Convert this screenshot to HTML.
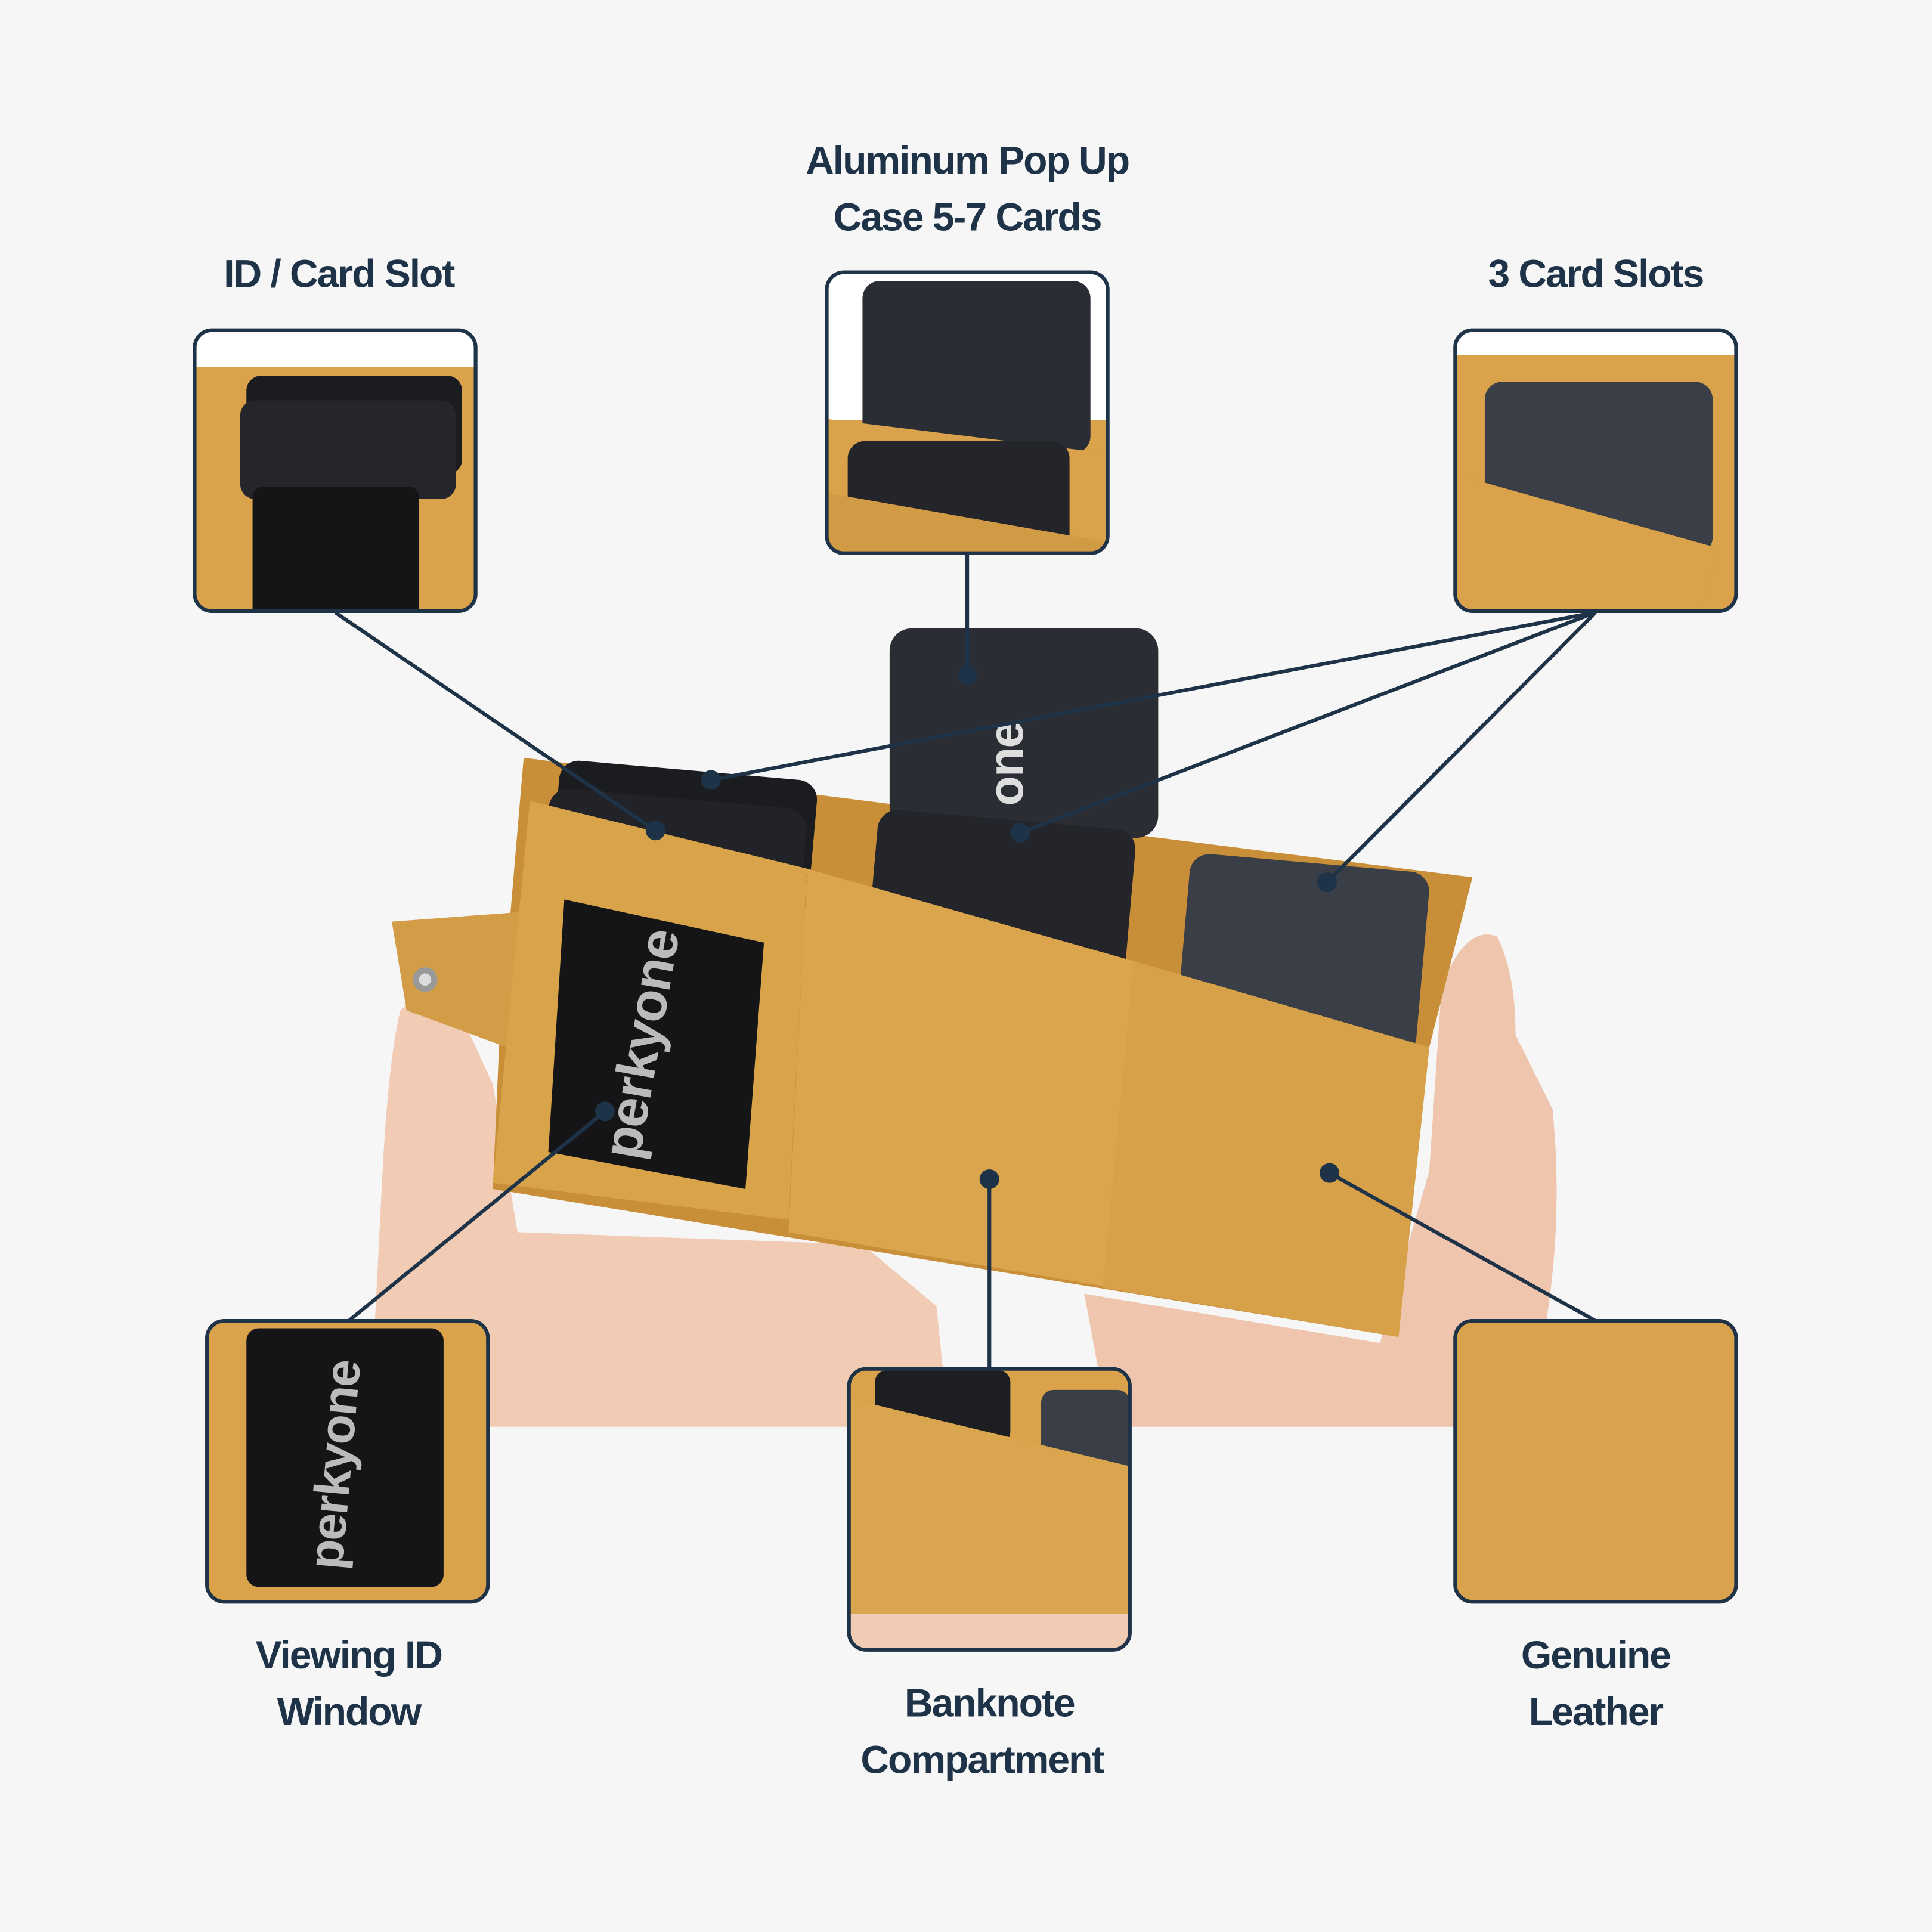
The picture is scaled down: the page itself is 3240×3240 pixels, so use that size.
<!DOCTYPE html>
<html><head><meta charset="utf-8"><style>
html,body{margin:0;padding:0;background:#f6f6f6;}
svg{display:block}
text{font-family:"Liberation Sans",sans-serif;font-weight:bold;fill:#1e3348;text-anchor:middle;letter-spacing:-1px}
</style></head><body>
<svg width="3240" height="3240" viewBox="0 0 1568 1568" xmlns="http://www.w3.org/2000/svg">
<defs>
<clipPath id="c1"><rect x="158" y="268" width="228" height="228" rx="14"/></clipPath>
<clipPath id="c2"><rect x="671" y="221" width="228" height="228" rx="14"/></clipPath>
<clipPath id="c3"><rect x="1181" y="268" width="228" height="228" rx="14"/></clipPath>
<clipPath id="c4"><rect x="168" y="1072" width="228" height="228" rx="14"/></clipPath>
<clipPath id="c5"><rect x="689" y="1111" width="228" height="228" rx="14"/></clipPath>
<clipPath id="c6"><rect x="1181" y="1072" width="228" height="228" rx="14"/></clipPath>
</defs>
<rect width="1568" height="1568" fill="#f6f6f6"/>

<!-- hands -->
<path d="M300,1158 L310,960 Q315,860 325,820 Q345,800 370,815 L400,880 L420,1000 L700,1010 L760,1060 L770,1158 Z" fill="#f1cbb3"/>
<path d="M900,1158 L880,1050 L1120,1090 L1160,950 L1170,800 Q1190,750 1215,760 Q1230,790 1230,840 L1260,900 Q1270,1000 1250,1100 L1240,1158 Z" fill="#efc6ad"/>

<!-- wallet back -->
<path d="M425,615 L1195,712 L1160,850 L1135,1085 L400,965 L405,850 Z" fill="#c98f38"/>
<path d="M318,748 L425,740 L425,855 L330,820 Z" fill="#d39c46"/>
<circle cx="345" cy="795" r="10" fill="#999"/><circle cx="345" cy="795" r="5" fill="#ddd"/>
<!-- popup card -->
<rect x="722" y="510" width="218" height="170" rx="18" fill="#2a2d33"/>
<text x="830" y="620" transform="rotate(-90 830 620)" style="fill:#ddd;font-size:40px">one</text>
<!-- cards back -->
<rect x="450" y="625" width="210" height="110" rx="16" fill="#1b1c20" transform="rotate(5 555 680)"/>
<rect x="442" y="648" width="210" height="100" rx="16" fill="#222328" transform="rotate(5 547 698)"/>
<rect x="708" y="665" width="210" height="120" rx="16" fill="#23252a" transform="rotate(5 813 725)"/>
<rect x="960" y="700" width="195" height="150" rx="16" fill="#3a3e47" transform="rotate(5 1057 775)"/>
<!-- front panels -->
<path d="M430,650 L655,705 L640,990 L400,960 Z" fill="#d9a349"/>
<path d="M655,705 L920,780 L1160,850 L1135,1085 L640,1000 Z" fill="#daa54d"/>
<path d="M920,780 L1160,850 L1135,1085 L895,1045 Z" fill="#d7a14a"/>
<!-- ID window -->
<path d="M458,730 L620,765 L605,965 L445,935 Z" fill="#151517"/>
<text x="535" y="850" transform="rotate(-80 535 850)" style="fill:#bbb;font-size:44px">perkyone</text>

<!-- boxes -->
<g clip-path="url(#c1)"><rect x="158" y="268" width="228" height="228" fill="#d9a24b"/><rect x="158" y="268" width="228" height="30" fill="#fff"/>
<rect x="200" y="305" width="175" height="80" rx="12" fill="#1b1c20"/><rect x="195" y="325" width="175" height="80" rx="12" fill="#25262b"/>
<rect x="205" y="395" width="135" height="110" rx="8" fill="#151517"/></g>
<g clip-path="url(#c2)"><rect x="671" y="221" width="228" height="228" fill="#d9a24b"/><rect x="671" y="221" width="228" height="120" fill="#fff"/>
<rect x="700" y="228" width="185" height="140" rx="14" fill="#2a2d33"/><path d="M671,340 L899,368 L899,449 L671,449Z" fill="#d9a24b"/>
<rect x="688" y="358" width="180" height="100" rx="14" fill="#23252a"/><path d="M671,400 L899,440 L899,449 L671,449Z" fill="#d19a45"/></g>
<g clip-path="url(#c3)"><rect x="1181" y="268" width="228" height="228" fill="#d9a24b"/><rect x="1181" y="268" width="228" height="20" fill="#fff"/>
<rect x="1205" y="310" width="185" height="140" rx="14" fill="#3a3e47"/><path d="M1181,385 L1395,445 L1380,496 L1181,496Z" fill="#d9a24b"/></g>
<g clip-path="url(#c4)"><rect x="168" y="1072" width="228" height="228" fill="#d9a24b"/>
<rect x="200" y="1078" width="160" height="210" rx="10" fill="#151517"/>
<text x="285" y="1190" transform="rotate(-85 285 1190)" style="fill:#bbb;font-size:40px">perkyone</text></g>
<g clip-path="url(#c5)"><rect x="689" y="1111" width="228" height="228" fill="#d9a24b"/>
<rect x="710" y="1112" width="110" height="60" rx="10" fill="#1d1e22"/><rect x="845" y="1128" width="72" height="80" rx="10" fill="#3a3e47"/>
<path d="M689,1135 L917,1190 L917,1339 L689,1339Z" fill="#d9a54f"/><rect x="689" y="1310" width="228" height="29" fill="#f1cbb3"/></g>
<g clip-path="url(#c6)"><rect x="1181" y="1072" width="228" height="228" fill="#d9a24c"/></g>
<g fill="none" stroke="#1e3348" stroke-width="3">
<rect x="158" y="268" width="228" height="228" rx="14"/>
<rect x="671" y="221" width="228" height="228" rx="14"/>
<rect x="1181" y="268" width="228" height="228" rx="14"/>
<rect x="168" y="1072" width="228" height="228" rx="14"/>
<rect x="689" y="1111" width="228" height="228" rx="14"/>
<rect x="1181" y="1072" width="228" height="228" rx="14"/>
<path d="M272,497 L532,674 M785,449 L785,548 M1295,497 L577,633 M1295,497 L828,676 M1295,497 L1077,716 M283,1072 L491,902 M803,1111 L803,957 M1295,1072 L1079,952"/>
</g>
<g fill="#1e3348">
<circle cx="532" cy="674" r="8"/><circle cx="785" cy="548" r="8"/><circle cx="577" cy="633" r="8"/><circle cx="828" cy="676" r="8"/><circle cx="1077" cy="716" r="8"/><circle cx="491" cy="902" r="8"/><circle cx="803" cy="957" r="8"/><circle cx="1079" cy="952" r="8"/>
</g>

<g style="font-size:32px">
<text x="275" y="233">ID / Card Slot</text>
<text x="785" y="141">Aluminum Pop Up</text>
<text x="785" y="187">Case 5-7 Cards</text>
<text x="1295" y="233">3 Card Slots</text>
<text x="283" y="1354">Viewing ID</text>
<text x="283" y="1400">Window</text>
<text x="803" y="1393">Banknote</text>
<text x="797" y="1439">Compartment</text>
<text x="1295" y="1354">Genuine</text>
<text x="1295" y="1400">Leather</text>
</g>
</svg>
</body></html>
